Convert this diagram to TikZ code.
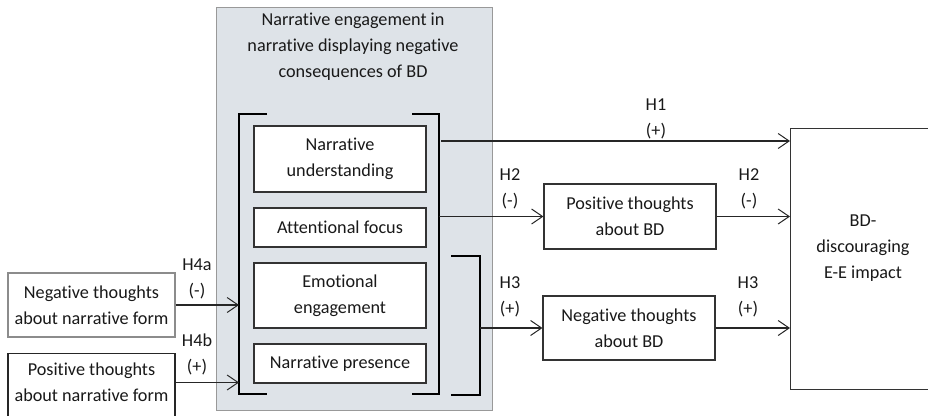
\documentclass[tikz,border=0pt]{standalone}
\usepackage{fontspec}
\setmainfont{Carlito}[Ligatures=NoCommon]
\usetikzlibrary{arrows.meta}
\definecolor{panel}{HTML}{DEE3E8}

\begin{document}
\begin{tikzpicture}[x=1pt, y=-1pt,
		txt/.style={font=\fontsize{18.2}{26}\selectfont, align=center, text=black!90},
		box/.style={txt, draw=black!80, line width=1.1pt, fill=white, inner sep=0pt, minimum width=172, minimum height=#1},
		formbox/.style={draw=#1, line width=1.1pt, fill=white, inner sep=0pt, minimum width=167},
		arr/.style={draw=black!85, line width=1.1pt, -{Straight Barb[length=11pt, width=15pt, line width=1pt]}},
		brk/.style={line width=2pt, black}]
%		\draw[help lines, step=50] (0,0) grid (928,415);
	\useasboundingbox (0,0) rectangle (928,415);

	\node[draw=black!40, fill=panel, line width=1.2pt, minimum width=276, minimum height=403, anchor=north west] (eng) at (216,7) {};
	\node[txt] (title) at (353,47) {Narrative engagement in\\narrative displaying negative\\consequences of BD};

	\node[box=66] (und) at (340,159) {Narrative\\understanding};
	\node[box=39] (att) at (340,227.5) {Attentional focus};
	\node[box=65] (emo) at (340,295.5) {Emotional\\engagement};
	\node[box=39] (pres) at (340,363.5) {Narrative presence};

	% brackets
	\draw[brk] (267,114) -- (239,114) coordinate (bl) -- (239,394) -- (267,394);
	\draw[brk] (412,114) -- (439,114) coordinate (br) -- (439,394) -- (412,394);
	\draw[brk] (451,256) -- (480,256) coordinate (bb) -- (480,395) -- (451,395);

	\node[box=65] (posbd) at (630,216.5) {Positive thoughts\\about BD};
	\node[box=64] (negbd) at (629,328) {Negative thoughts\\about BD};

	\node[formbox=black!80, minimum width=160, minimum height=261, anchor=north west] (eeimp) at (790,128) {};
	\node[txt] (eetxt) at (863,248) {BD-\\discouraging\\E-E impact};

	\node[formbox=black!45, minimum height=64] (negform) at (91.5,305) {};
	\node[txt] (negftxt) at (negform) {Negative thoughts\\about narrative form};
	\node[formbox=black!85, minimum height=76, anchor=north] (posform) at (91.5,353) {};
	\node[txt] (posftxt) at (91.5,382.5) {Positive thoughts\\about narrative form};

	\coordinate (h1) at (441,141);
	\draw[arr] (h1) -- (h1 -| eeimp.west);
	\draw[arr] (br |- posbd) -- (posbd.west);
	\draw[arr] (posbd.east) -- (posbd -| eeimp.west);
	\draw[arr] (bb |- negbd) -- (negbd.west);
	\draw[arr] (negbd.east) -- (negbd -| eeimp.west);
	\draw[arr] (negform.east) -- (negform -| bl);
	\draw[arr] (posform.east |- posftxt) -- (posftxt -| bl);

	\node[txt] (lh1) at (656,118.5) {H1\\(+)};
	\node[txt] (lh2a) at (510,189) {H2\\(-)};
	\node[txt] (lh2b) at (749,189) {H2\\(-)};
	\node[txt] (lh3a) at (510,296.5) {H3\\(+)};
	\node[txt] (lh3b) at (748,296.5) {H3\\(+)};
	\node[txt] (lh4a) at (197,278.5) {H4a\\(-)};
	\node[txt] (lh4b) at (197,354) {H4b\\(+)};
\end{tikzpicture}
\end{document}
